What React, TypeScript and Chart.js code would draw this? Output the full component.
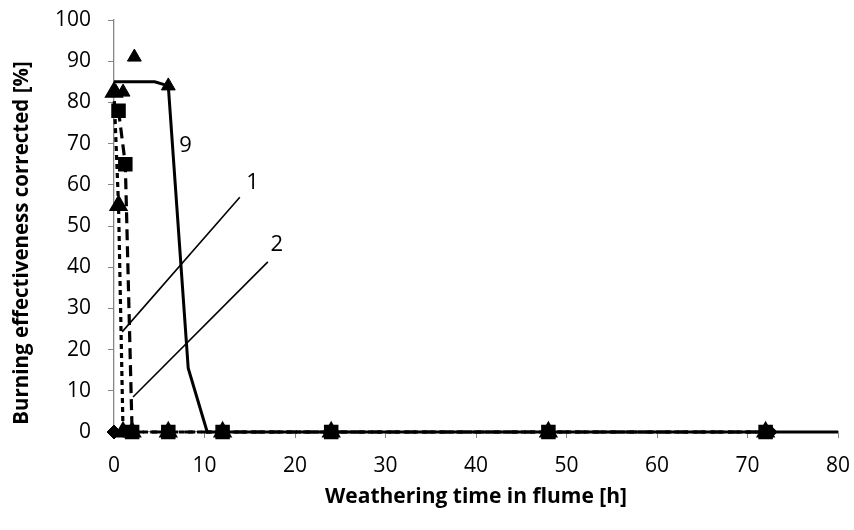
import React, { useEffect, useRef } from "react";
import { Chart, registerables } from "chart.js";

Chart.register(...registerables);

// Curve "9" (solid line)
const s9X = [0, 4.5, 6, 8.2, 10.3, 12, 24, 48, 72, 80];
const s9Y = [85, 85, 84, 15.5, 0, 0, 0, 0, 0, 0];
// Curve "1" (short dashes, triangles)
const s1X = [0, 0.5, 1, 2, 6, 12, 24, 48, 72];
const s1Y = [82.5, 55, 0, 0, 0, 0, 0, 0, 0];
// Curve "2" (long dashes, squares)
const s2X = [0.5, 1.25, 2, 6, 12, 24, 48, 72];
const s2Y = [78, 65, 0, 0, 0, 0, 0, 0];
// extra triangle markers
const triX = [0.2, 1, 2.25, 6, 12];
const triY = [82.5, 82.5, 91, 84, 0];
// diamond markers
const diaX = [0, 72.5];
const diaY = [0, 0];
// leader lines for labels
const lead1X = [0.9, 13.9];
const lead1Y = [24.3, 57];
const lead2X = [2.1, 17];
const lead2Y = [8.5, 41.3];
// curve labels
const labelText = ["9", "1", "2"];
const labelX = [7.9, 15.3, 18];
const labelY = [69.5, 60.5, 45.5];

const xTicks = [0, 10, 20, 30, 40, 50, 60, 70, 80];
const yTicks = [0, 10, 20, 30, 40, 50, 60, 70, 80, 90, 100];

const xTitle = "Weathering time in flume [h]";
const yTitle = "Burning effectiveness corrected [%]";

const pts = (xs: number[], ys: number[]) => xs.map((x, i) => ({ x, y: ys[i] }));

const FONT = "'Open Sans', 'Liberation Sans', sans-serif";

const labelPlugin = {
  id: "curveLabels",
  afterDatasetsDraw(chart: any) {
    const { ctx, scales, chartArea } = chart;
    ctx.save();
    ctx.fillStyle = "#000";
    ctx.font = `22px ${FONT}`;
    ctx.textAlign = "center";
    ctx.textBaseline = "middle";
    labelText.forEach((t, i) => {
      ctx.fillText(t, scales.x.getPixelForValue(labelX[i]), scales.y.getPixelForValue(labelY[i]));
    });
    // axis titles
    ctx.font = `bold 21px ${FONT}`;
    ctx.fillText(xTitle, (chartArea.left + chartArea.right) / 2, 497);
    ctx.font = `bold 20.5px ${FONT}`;
    ctx.translate(22, 243);
    ctx.rotate(-Math.PI / 2);
    ctx.fillText(yTitle, 0, 0);
    ctx.restore();
  },
};

export default function App() {
  const ref = useRef<HTMLCanvasElement>(null);
  useEffect(() => {
    document.body.style.margin = "0";
    const marker = {
      backgroundColor: "#000",
      pointBorderColor: "#000",
      clip: false as any,
    };
    const chart = new Chart(ref.current!, {
      type: "scatter",
      data: {
        datasets: [
          { data: pts(lead1X, lead1Y), showLine: true, borderColor: "#000", borderWidth: 1.6, pointRadius: 0 },
          { data: pts(lead2X, lead2Y), showLine: true, borderColor: "#000", borderWidth: 1.6, pointRadius: 0 },
          { data: pts(s9X, s9Y), showLine: true, borderColor: "#000", borderWidth: 3, pointRadius: 0, clip: false as any },
          {
            data: pts(s1X, s1Y),
            showLine: true,
            borderColor: "#000",
            borderWidth: 3.2,
            borderDash: [5, 4],
            pointStyle: "triangle",
            pointRadius: 8,
            ...marker,
          },
          {
            data: pts(s2X, s2Y),
            showLine: true,
            borderColor: "#000",
            borderWidth: 3.2,
            borderDash: [11, 6],
            pointStyle: "rect",
            pointRadius: 8,
            ...marker,
          },
          { data: pts(triX, triY), showLine: false, pointStyle: "triangle", pointRadius: 8, ...marker },
          { data: pts(diaX, diaY), showLine: false, pointStyle: "rectRot", pointRadius: 7, ...marker },
        ],
      },
      options: {
        animation: false,
        responsive: false,
        layout: { padding: { top: 20, right: 16, left: 0, bottom: 0 } },
        plugins: { legend: { display: false }, tooltip: { enabled: false } },
        scales: {
          x: {
            type: "linear",
            min: 0,
            max: 80,
            afterBuildTicks: (s: any) => {
              s.ticks = xTicks.map((v) => ({ value: v }));
            },
            afterFit: (s: any) => {
              s.height = 98;
              s.paddingLeft = 0;
              s.paddingRight = 0;
            },
            grid: { drawOnChartArea: false, drawTicks: true, tickLength: 6, color: "#868686" },
            border: { color: "#868686", width: 1.3 },
            ticks: { color: "#000", font: { family: FONT, size: 21 }, padding: 15 },
          },
          y: {
            type: "linear",
            min: 0,
            max: 100,
            afterBuildTicks: (s: any) => {
              s.ticks = yTicks.map((v) => ({ value: v }));
            },
            afterFit: (s: any) => {
              s.width = 114;
              s.paddingTop = 0;
              s.paddingBottom = 0;
            },
            grid: { drawOnChartArea: false, drawTicks: true, tickLength: 6, color: "#868686" },
            border: { color: "#868686", width: 1.3 },
            ticks: { color: "#000", font: { family: FONT, size: 21 }, padding: 17 },
          },
        },
      },
      plugins: [labelPlugin],
    });
    return () => chart.destroy();
  }, []);
  return <canvas ref={ref} width={854} height={530} style={{ display: "block" }} />;
}
